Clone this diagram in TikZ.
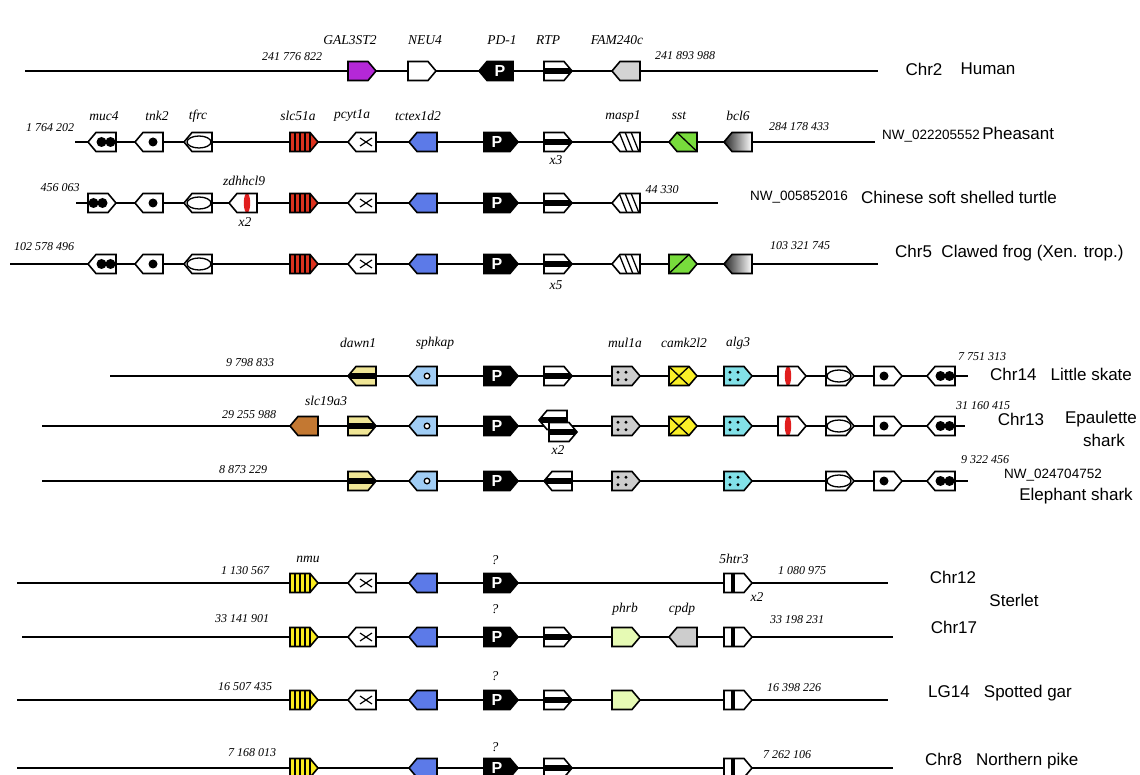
\documentclass[tikz,border=0pt]{standalone}
\usepackage{fontspec}
\setmainfont{Liberation Serif}
\setsansfont{Liberation Sans}
\definecolor{purp}{RGB}{180,40,215}
\definecolor{lgray}{RGB}{212,212,212}
\definecolor{gblue}{RGB}{92,122,232}
\definecolor{sred}{RGB}{220,50,30}
\definecolor{sgreen}{RGB}{120,220,60}
\definecolor{lblue}{RGB}{160,205,245}
\definecolor{mgray}{RGB}{205,205,205}
\definecolor{cyel}{RGB}{250,240,40}
\definecolor{acyan}{RGB}{130,225,232}
\definecolor{dyel}{RGB}{240,230,150}
\definecolor{brown}{RGB}{195,120,50}
\definecolor{nyel}{RGB}{250,235,30}
\definecolor{pgreen}{RGB}{230,250,180}
\definecolor{zred}{RGB}{225,30,30}
\newcounter{lbl}
\newcommand\T[3][gname]{\stepcounter{lbl}\node[#1] (n\arabic{lbl}) at (#2) {#3};}
% gene glyph: [half length]{x}{y}{dir}{fill options}{decoration}
\newcommand\gn[6][14]{%
\begin{scope}[shift={(#2,#3)},xscale=#4]
\path[#5] (-#1,-9.5) -- ({#1-8},-9.5) -- (#1,0) -- ({#1-8},9.5) -- (-#1,9.5) -- cycle;
\begin{scope}
\clip (-#1,-9.5) -- ({#1-8},-9.5) -- (#1,0) -- ({#1-8},9.5) -- (-#1,9.5) -- cycle;
#6
\end{scope}
\draw[gl] (-#1,-9.5) -- ({#1-8},-9.5) -- (#1,0) -- ({#1-8},9.5) -- (-#1,9.5) -- cycle;
\end{scope}}
\newcommand\dMuc{\fill (-8.5,0) circle[radius=5] (0.5,0) circle[radius=5];}
\newcommand\dDot{\fill (-4,0) circle[radius=4.5];}
\newcommand\dEll{\draw[line width=1.3pt] (-1,0) ellipse[x radius=12, y radius=6];}
\newcommand\dRed{\fill[zred] (-4,0) ellipse[x radius=3.2, y radius=10];}
\newcommand\dStr{\foreach \s in {-9,-4,1,6} \draw[line width=2.2pt] (\s,-10) -- (\s,10);}
\newcommand\dX{\draw[line width=1.2pt] (-10,-4) -- (2,4) (-10,4) -- (2,-4);}
\newcommand\dMasp{\draw[line width=1.3pt] (-13,10) -- (-5,-10) (-7,10) -- (1,-10) (-1,10) -- (7,-10);}
\newcommand\dSst{\draw[line width=1.3pt] (-14,9.5) -- (6,-9.5);}
\newcommand\dBand{\fill (-20,-3.3) rectangle (20,3.3);}
\newcommand\dBar{\fill (-7.5,-10) rectangle (-3.5,10);}
\newcommand\dO{\draw[line width=1.3pt, fill=white] (-4,0) circle[radius=2.8];}
\newcommand\dDots{\foreach \a/\b in {-8/-3.8,0/-3.8,-8/3.8,0/3.8} \fill (\a,\b) circle[radius=1.6];}
\newcommand\dCross{\draw[line width=1.3pt] (-14,-9.5) -- (6,9.5) (-14,9.5) -- (6,-9.5);}
\newcommand\dP{\stepcounter{lbl}\node[ptx] (n\arabic{lbl}) at (-4,0) {P};}
\begin{document}
\begin{tikzpicture}[x=1pt,y=-1pt,
  gl/.style={draw=black, line width=1.6pt, line join=miter},
  chr/.style={draw=black, line width=1.2pt},
  gname/.style={font=\itshape\fontsize{13.5}{13.5}\selectfont, inner sep=0pt},
  num/.style={font=\itshape\fontsize{12}{12}\selectfont, inner sep=0pt},
  sp/.style={font=\sffamily\fontsize{17}{17}\selectfont, inner sep=0pt},
  spw/.style={sp, anchor=west},
  nw/.style={font=\sffamily\fontsize{13.5}{13.5}\selectfont, inner sep=0pt},
  ptx/.style={text=white, font=\sffamily\bfseries\fontsize{16}{16}\selectfont, inner sep=0pt}]
\useasboundingbox (0,0) rectangle (1140,775);
\fill[white] (0,0) rectangle (1140,775);
% ---------------- chromosome lines
\draw[chr] (25,71) -- (878,71);
\draw[chr] (75,142) -- (875,142);
\draw[chr] (76,203) -- (718,203);
\draw[chr] (10,264) -- (878,264);
\draw[chr] (110,376) -- (968,376);
\draw[chr] (42,426) -- (965,426);
\draw[chr] (42,481) -- (968,481);
\draw[chr] (17,583) -- (888,583);
\draw[chr] (22,637) -- (893,637);
\draw[chr] (17,700) -- (888,700);
\draw[chr] (17,768) -- (893,768);
% ---------------- Human
\gn{362}{71}{1}{fill=purp}{}
\gn{422}{71}{1}{fill=white}{}
\gn[17]{496}{71}{-1}{fill=black}{\dP}
\gn{558}{71}{1}{fill=white}{\dBand}
\gn{626}{71}{-1}{fill=lgray}{}
\T{350,40}{GAL3ST2}
\T{425,40}{NEU4}
\T{502,40}{PD-1}
\T{548,40}{RTP}
\T{617,40}{FAM240c}
\T[num]{292,57}{241 776 822}
\T[num]{685,56}{241 893 988}
\T[sp]{924,69}{Chr2}
\T[sp]{988,69}{Human}
% ---------------- Pheasant
\gn{102}{142}{-1}{fill=white}{\dMuc}
\gn{149}{142}{-1}{fill=white}{\dDot}
\gn{198}{142}{-1}{fill=white}{\dEll}
\gn{304}{142}{1}{fill=sred}{\dStr}
\gn{362}{142}{-1}{fill=white}{\dX}
\gn{423}{142}{-1}{fill=gblue}{}
\gn[17]{501}{142}{1}{fill=black}{\dP}
\gn{558}{142}{1}{fill=white}{\dBand}
\gn{626}{142}{-1}{fill=white}{\dMasp}
\gn{683}{142}{-1}{fill=sgreen}{\dSst}
\gn{738}{142}{-1}{left color=black!85,right color=white}{}
\T{104,116}{muc4}
\T{157,116}{tnk2}
\T{198,116}{tfrc}
\T{298,116}{slc51a}
\T{352,116}{pcyt1a}
\T{418,116}{tctex1d2}
\T{623,116}{masp1}
\T{679,116}{sst}
\T{738,116}{bcl6}
\T[num]{50,128}{1 764 202}
\T{556,160}{x3}
\T[num]{799,127}{284 178 433}
\stepcounter{lbl}\node[anchor=west, inner sep=0pt] (n\arabic{lbl}) at (882,135) {{\sffamily\fontsize{13.5}{13.5}\selectfont NW\_022205552} {\sffamily\fontsize{17}{17}\selectfont Pheasant}};
% ---------------- Turtle
\gn{102}{203}{1}{fill=white}{\dMuc}
\gn{149}{203}{-1}{fill=white}{\dDot}
\gn{198}{203}{-1}{fill=white}{\dEll}
\gn{243}{203}{-1}{fill=white}{\dRed}
\gn{304}{203}{1}{fill=sred}{\dStr}
\gn{362}{203}{-1}{fill=white}{\dX}
\gn{423}{203}{-1}{fill=gblue}{}
\gn[17]{501}{203}{1}{fill=black}{\dP}
\gn{558}{203}{1}{fill=white}{\dBand}
\gn{626}{203}{-1}{fill=white}{\dMasp}
\T[num]{60,188}{456 063}
\T{244,181}{zdhhcl9}
\T{245,222}{x2}
\T[num]{662,190}{44 330}
\T[nw]{799,197}{NW\_005852016}
\T[sp]{959,197}{Chinese soft shelled turtle}
% ---------------- Frog
\gn{102}{264}{-1}{fill=white}{\dMuc}
\gn{149}{264}{-1}{fill=white}{\dDot}
\gn{198}{264}{-1}{fill=white}{\dEll}
\gn{304}{264}{1}{fill=sred}{\dStr}
\gn{362}{264}{-1}{fill=white}{\dX}
\gn{423}{264}{-1}{fill=gblue}{}
\gn[17]{501}{264}{1}{fill=black}{\dP}
\gn{558}{264}{1}{fill=white}{\dBand}
\gn{626}{264}{-1}{fill=white}{\dMasp}
\gn{683}{264}{1}{fill=sgreen}{\dSst}
\gn{738}{264}{-1}{left color=black!85,right color=white}{}
\T[num]{44,247}{102 578 496}
\T{556,285}{x5}
\T[num]{800,246}{103 321 745}
\T[spw]{895,253}{Chr5\ \ Clawed frog (Xen. trop.)}
% ---------------- Little skate
\gn{362}{376}{-1}{fill=dyel}{\dBand}
\gn{423}{376}{-1}{fill=lblue}{\dO}
\gn[17]{501}{376}{1}{fill=black}{\dP}
\gn{558}{376}{1}{fill=white}{\dBand}
\gn{626}{376}{1}{fill=mgray}{\dDots}
\gn{683}{376}{1}{fill=cyel}{\dCross}
\gn{738}{376}{1}{fill=acyan}{\dDots}
\gn{792}{376}{1}{fill=white}{\dRed}
\gn{840}{376}{1}{fill=white}{\dEll}
\gn{888}{376}{1}{fill=white}{\dDot}
\gn{941}{376}{-1}{fill=white}{\dMuc}
\T{358,343}{dawn1}
\T{435,343}{sphkap}
\T{625,343}{mul1a}
\T{684,343}{camk2l2}
\T{738,343}{alg3}
\T[num]{250,363}{9 798 833}
\T[num]{982,357}{7 751 313}
\T[spw]{990,374}{Chr14\ \ \ Little skate}
% ---------------- Epaulette shark
\gn{304}{426}{-1}{fill=brown}{}
\gn{362}{426}{1}{fill=dyel}{\dBand}
\gn{423}{426}{-1}{fill=lblue}{\dO}
\gn[17]{501}{426}{1}{fill=black}{\dP}
\gn{553}{420}{-1}{fill=white}{\dBand}
\gn{563}{432}{1}{fill=white}{\dBand}
\gn{626}{426}{1}{fill=mgray}{\dDots}
\gn{683}{426}{1}{fill=cyel}{\dCross}
\gn{738}{426}{1}{fill=acyan}{\dDots}
\gn{792}{426}{1}{fill=white}{\dRed}
\gn{840}{426}{1}{fill=white}{\dEll}
\gn{888}{426}{1}{fill=white}{\dDot}
\gn{941}{426}{-1}{fill=white}{\dMuc}
\T{326,401}{slc19a3}
\T[num]{249,415}{29 255 988}
\T{558,450}{x2}
\T[num]{983,406}{31 160 415}
\T[sp]{1021,419}{Chr13}
\T[sp]{1101,419}{Epaulette}
\T[sp]{1104,440}{shark}
% ---------------- Elephant shark
\gn{362}{481}{1}{fill=dyel}{\dBand}
\gn{423}{481}{-1}{fill=lblue}{\dO}
\gn[17]{501}{481}{1}{fill=black}{\dP}
\gn{558}{481}{-1}{fill=white}{\dBand}
\gn{626}{481}{1}{fill=mgray}{\dDots}
\gn{738}{481}{1}{fill=acyan}{\dDots}
\gn{840}{481}{1}{fill=white}{\dEll}
\gn{888}{481}{1}{fill=white}{\dDot}
\gn{941}{481}{-1}{fill=white}{\dMuc}
\T[num]{243,470}{8 873 229}
\T[num]{985,460}{9 322 456}
\T[nw]{1053,475}{NW\_024704752}
\T[sp]{1076,496}{Elephant shark}
% ---------------- Sterlet Chr12
\gn{304}{583}{1}{fill=nyel}{\dStr}
\gn{362}{583}{-1}{fill=white}{\dX}
\gn{423}{583}{-1}{fill=gblue}{}
\gn[17]{501}{583}{1}{fill=black}{\dP}
\gn{738}{583}{1}{fill=white}{\dBar}
\T{308,559}{nmu}
\T{495,560}{?}
\T{734,559}{5htr3}
\T[num]{245,571}{1 130 567}
\T[num]{802,571}{1 080 975}
\T{757,597}{x2}
\T[sp]{953,577}{Chr12}
\T[sp]{1014,600}{Sterlet}
% ---------------- Sterlet Chr17
\gn{304}{637}{1}{fill=nyel}{\dStr}
\gn{362}{637}{-1}{fill=white}{\dX}
\gn{423}{637}{-1}{fill=gblue}{}
\gn[17]{501}{637}{1}{fill=black}{\dP}
\gn{558}{637}{1}{fill=white}{\dBand}
\gn{626}{637}{1}{fill=pgreen}{}
\gn{683}{637}{-1}{fill=mgray}{}
\gn{738}{637}{1}{fill=white}{\dBar}
\T[num]{242,619}{33 141 901}
\T{495,609}{?}
\T{625,609}{phrb}
\T{682,609}{cpdp}
\T[num]{797,620}{33 198 231}
\T[sp]{954,627}{Chr17}
% ---------------- Spotted gar
\gn{304}{700}{1}{fill=nyel}{\dStr}
\gn{362}{700}{-1}{fill=white}{\dX}
\gn{423}{700}{-1}{fill=gblue}{}
\gn[17]{501}{700}{1}{fill=black}{\dP}
\gn{558}{700}{1}{fill=white}{\dBand}
\gn{626}{700}{1}{fill=pgreen}{}
\gn{738}{700}{1}{fill=white}{\dBar}
\T[num]{245,687}{16 507 435}
\T{495,676}{?}
\T[num]{794,688}{16 398 226}
\T[spw]{928,693}{LG14\ \ \ Spotted gar}
% ---------------- Northern pike
\gn{304}{768}{1}{fill=nyel}{\dStr}
\gn{423}{768}{-1}{fill=gblue}{}
\gn[17]{501}{768}{1}{fill=black}{\dP}
\gn{558}{768}{1}{fill=white}{\dBand}
\gn{738}{768}{1}{fill=white}{\dBar}
\T[num]{252,753}{7 168 013}
\T{495,747}{?}
\T[num]{787,755}{7 262 106}
\T[spw]{925,761}{Chr8\ \ \ Northern pike}
\end{tikzpicture}
\end{document}
